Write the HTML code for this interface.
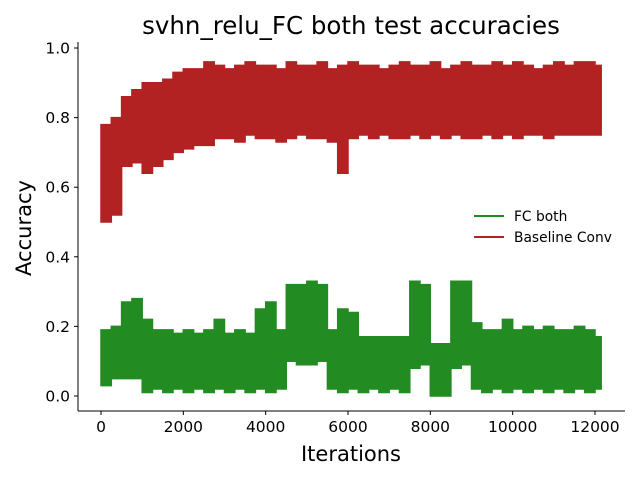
<!DOCTYPE html>
<html><head><meta charset="utf-8"><style>
body{margin:0;background:#fff;}
svg{display:block;font-family:"DejaVu Sans","Liberation Sans",sans-serif;}
</style></head><body>
<svg id="chart" width="640" height="480">
<rect width="640" height="480" fill="#fff"/>
<text x="351" y="34" font-size="24.5" text-anchor="middle" fill="#000">svhn_relu_FC both test accuracies</text>
<g id="plot"></g>
<line x1="78" y1="42" x2="78" y2="411" stroke="#000" stroke-width="1"/>
<line x1="78" y1="411" x2="625" y2="411" stroke="#000" stroke-width="1"/>
<g id="ticks"></g>
<text x="351" y="461" font-size="21" text-anchor="middle">Iterations</text>
<text transform="translate(31,228) rotate(-90)" font-size="21" text-anchor="middle">Accuracy</text>
<g>
<line x1="474" y1="216" x2="504" y2="216" stroke="#228b22" stroke-width="2"/>
<text x="514" y="221" font-size="13.8">FC both</text>
<line x1="474" y1="237" x2="504" y2="237" stroke="#b22222" stroke-width="2"/>
<text x="514" y="242" font-size="13.8">Baseline Conv</text>
</g>
</svg>
<script>
const binWidth = 250;
const xEnd = 12150;
const xTicks = [0,2000,4000,6000,8000,10000,12000];
const yTicks = [0.0,0.2,0.4,0.6,0.8,1.0];
const redHi = [0.78,0.80,0.86,0.88,0.90,0.90,0.91,0.93,0.94,0.94,0.96,0.95,0.94,0.95,0.96,0.95,0.95,0.94,0.96,0.95,0.95,0.96,0.94,0.95,0.96,0.95,0.95,0.94,0.95,0.96,0.95,0.95,0.96,0.94,0.95,0.96,0.95,0.95,0.96,0.95,0.96,0.95,0.94,0.95,0.96,0.95,0.96,0.96,0.95];
const redLo = [0.50,0.52,0.66,0.67,0.64,0.66,0.68,0.70,0.71,0.72,0.72,0.74,0.74,0.73,0.75,0.74,0.74,0.73,0.74,0.75,0.74,0.74,0.73,0.64,0.74,0.75,0.74,0.75,0.74,0.74,0.75,0.74,0.75,0.74,0.75,0.74,0.74,0.75,0.74,0.75,0.74,0.75,0.75,0.74,0.75,0.75,0.75,0.75,0.75];
const greenHi = [0.19,0.20,0.27,0.28,0.22,0.19,0.19,0.18,0.19,0.18,0.19,0.22,0.18,0.19,0.18,0.25,0.27,0.19,0.32,0.32,0.33,0.32,0.19,0.25,0.24,0.17,0.17,0.17,0.17,0.17,0.33,0.32,0.15,0.15,0.33,0.33,0.21,0.19,0.19,0.22,0.19,0.20,0.19,0.20,0.19,0.19,0.20,0.19,0.17];
const greenLo = [0.03,0.05,0.05,0.05,0.01,0.02,0.01,0.02,0.01,0.02,0.01,0.02,0.01,0.02,0.01,0.02,0.01,0.02,0.10,0.09,0.09,0.10,0.02,0.01,0.02,0.01,0.02,0.01,0.02,0.01,0.08,0.09,0.00,0.00,0.08,0.09,0.02,0.01,0.02,0.01,0.02,0.01,0.02,0.01,0.02,0.01,0.02,0.01,0.02];

const NS = "http://www.w3.org/2000/svg";
function xs(v){ return 101 + v * (494/12000); }
function ys(v){ return 396 - v * 348; }

function band(hi, lo, color, name){
  let top = [], bot = [];
  for (let i = 0; i < hi.length; i++){
    const a = xs(i*binWidth), b = xs(Math.min((i+1)*binWidth, xEnd));
    top.push([a, ys(hi[i])], [b, ys(hi[i])]);
    bot.push([a, ys(lo[i])], [b, ys(lo[i])]);
  }
  const pts = top.concat(bot.reverse()).map(p => p[0].toFixed(1)+","+p[1].toFixed(1)).join(" ");
  const poly = document.createElementNS(NS, "polygon");
  poly.setAttribute("points", pts);
  poly.setAttribute("fill", color);
  poly.setAttribute("stroke", color);
  poly.setAttribute("stroke-width", "1.5");
  
  
  document.getElementById("plot").appendChild(poly);
}
band(greenHi, greenLo, "#228b22", "fc-both-series");
band(redHi, redLo, "#b22222", "baseline-conv-series");

const tg = document.getElementById("ticks");
xTicks.forEach(t => {
  const l = document.createElementNS(NS, "line");
  l.setAttribute("x1", xs(t)); l.setAttribute("x2", xs(t));
  l.setAttribute("y1", 411); l.setAttribute("y2", 415);
  l.setAttribute("stroke", "#000");
  
  
  tg.appendChild(l);
  const tx = document.createElementNS(NS, "text");
  tx.setAttribute("x", xs(t)); tx.setAttribute("y", 432);
  tx.setAttribute("font-size", "15.5"); tx.setAttribute("text-anchor", "middle");
  tx.textContent = String(t);
  
  
  tg.appendChild(tx);
});
yTicks.forEach(t => {
  const l = document.createElementNS(NS, "line");
  l.setAttribute("x1", 74); l.setAttribute("x2", 78);
  l.setAttribute("y1", ys(t)); l.setAttribute("y2", ys(t));
  l.setAttribute("stroke", "#000");
  
  
  tg.appendChild(l);
  const tx = document.createElementNS(NS, "text");
  tx.setAttribute("x", 70); tx.setAttribute("y", ys(t) + 5.5);
  tx.setAttribute("font-size", "15.5"); tx.setAttribute("text-anchor", "end");
  tx.textContent = t.toFixed(1);
  
  
  tg.appendChild(tx);
});
</script>
</body></html>
